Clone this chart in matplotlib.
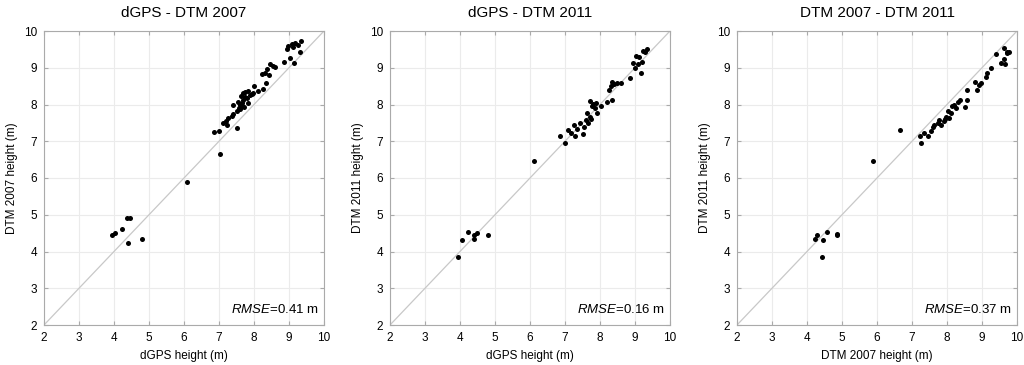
import numpy as np
import matplotlib
matplotlib.use('Agg')
import matplotlib.pyplot as plt

plt.rcParams['font.family'] = ['Liberation Sans', 'DejaVu Sans']
plt.rcParams['mathtext.fontset'] = 'custom'
plt.rcParams['mathtext.it'] = 'Liberation Sans:italic'
plt.rcParams['mathtext.rm'] = 'Liberation Sans'

# panel 1: dGPS vs DTM 2007
gps_a = [3.93, 4.04, 4.23, 4.38, 4.46, 4.39, 4.80, 6.09, 7.04, 6.85, 7.00, 7.50,
         7.12, 7.19, 7.27, 7.24, 7.41, 7.52, 7.60, 7.65, 7.55, 7.41, 7.69, 7.63,
         7.69, 7.74, 7.83, 7.89, 7.79, 7.83, 7.71, 7.60, 8.01, 7.98, 8.12, 8.25,
         8.33, 8.24, 8.30, 8.36, 8.44, 8.46, 8.53, 8.60, 8.86, 9.03, 9.15, 9.30,
         8.93, 8.98, 9.08, 9.17, 9.33, 9.27, 9.12, 7.66, 7.74, 7.57, 7.36, 7.93]
dtm07_a = [4.46, 4.51, 4.60, 4.91, 4.91, 4.24, 4.33, 5.89, 6.65, 7.24, 7.29, 7.36,
           7.49, 7.54, 7.63, 7.45, 7.74, 7.81, 7.87, 7.96, 8.08, 7.99, 8.13, 8.22,
           8.31, 8.35, 8.37, 8.26, 8.17, 8.04, 7.93, 7.99, 8.51, 8.31, 8.37, 8.42,
           8.58, 8.83, 8.87, 8.96, 8.81, 9.10, 9.05, 9.02, 9.15, 9.26, 9.12, 9.42,
           9.52, 9.60, 9.65, 9.67, 9.74, 9.62, 9.57, 8.05, 8.20, 7.90, 7.70, 8.28]

# panel 2: dGPS vs DTM 2011
gps_b = [3.95, 4.05, 4.24, 4.41, 4.41, 4.48, 4.81, 6.10, 6.87, 7.01, 7.08, 7.17,
         7.26, 7.29, 7.33, 7.43, 7.50, 7.55, 7.60, 7.62, 7.67, 7.71, 7.73, 7.70,
         7.81, 7.86, 7.90, 7.89, 7.76, 8.03, 8.19, 8.35, 8.27, 8.30, 8.33, 8.40,
         8.48, 8.59, 8.86, 8.95, 9.00, 9.08, 9.03, 9.17, 9.10, 9.24, 9.29, 9.33,
         9.19]
dtm11_b = [3.85, 4.31, 4.53, 4.34, 4.46, 4.50, 4.45, 6.45, 7.13, 6.94, 7.30, 7.23,
           7.43, 7.15, 7.33, 7.49, 7.21, 7.40, 7.57, 7.77, 7.49, 7.67, 7.60, 8.09,
           8.01, 7.90, 7.76, 8.04, 7.95, 7.95, 8.08, 8.13, 8.40, 8.49, 8.62, 8.57,
           8.59, 8.58, 8.73, 9.12, 8.99, 9.10, 9.32, 8.85, 9.29, 9.46, 9.42, 9.52,
           9.17]

# panel 3: DTM 2007 vs DTM 2011
dtm07_c = [4.22, 4.29, 4.56, 4.47, 4.43, 4.87, 4.87, 5.88, 6.65, 7.22, 7.27, 7.35,
           7.45, 7.53, 7.59, 7.64, 7.74, 7.78, 7.83, 7.91, 7.98, 8.02, 7.95, 8.07,
           8.12, 8.15, 8.21, 8.31, 8.26, 8.36, 8.50, 8.58, 8.58, 8.79, 8.86, 8.90,
           8.98, 9.12, 9.14, 9.27, 9.41, 9.53, 9.63, 9.70, 9.72, 9.67, 9.62, 9.77]
dtm11_c = [4.34, 4.46, 4.53, 4.31, 3.85, 4.48, 4.44, 6.45, 7.30, 7.13, 6.94, 7.22,
           7.15, 7.29, 7.38, 7.45, 7.49, 7.58, 7.45, 7.54, 7.67, 7.81, 7.60, 7.63,
           7.76, 7.95, 7.99, 8.08, 7.90, 8.13, 7.93, 8.13, 8.40, 8.62, 8.40, 8.53,
           8.58, 8.74, 8.85, 8.99, 9.37, 9.12, 9.53, 9.40, 9.44, 9.10, 9.23, 9.42]

titles = ['dGPS - DTM 2007', 'dGPS - DTM 2011', 'DTM 2007 - DTM 2011']
xlabels = ['dGPS height (m)', 'dGPS height (m)', 'DTM 2007 height (m)']
ylabels = ['DTM 2007 height (m)', 'DTM 2011 height (m)', 'DTM 2011 height (m)']
rmse = ['0.41', '0.16', '0.37']
xs = [gps_a, gps_b, dtm07_c]
ys = [dtm07_a, dtm11_b, dtm11_c]

fig = plt.figure(figsize=(10.24, 3.65), dpi=100)
lefts = [44, 390, 737]
for i in range(3):
    ax = fig.add_axes([lefts[i] / 1024, 40 / 365, 280 / 1024, 294 / 365])
    ax.set_xlim(2, 10)
    ax.set_ylim(2, 10)
    ax.set_xticks(range(2, 11))
    ax.set_yticks(range(2, 11))
    ax.grid(True, color='#ebebeb', linewidth=0.8)
    ax.set_axisbelow(True)
    ax.plot([2, 10], [2, 10], color='#c8c8c8', linewidth=0.9, zorder=1)
    ax.scatter(xs[i], ys[i], s=13, color='black', zorder=3, linewidths=0)
    for sp in ax.spines.values():
        sp.set_color('#aaaaaa')
        sp.set_linewidth(0.8)
    ax.tick_params(direction='in', length=3, color='#aaaaaa', labelsize=8.5,
                   top=True, right=True, pad=5)
    ax.set_title(titles[i], fontsize=11, pad=10)
    ax.set_xlabel(xlabels[i], fontsize=8.5)
    ax.set_ylabel(ylabels[i], fontsize=8.5)
    ax.text(0.98, 0.03, r'$\it{RMSE}$=' + rmse[i] + ' m', transform=ax.transAxes,
            ha='right', va='bottom', fontsize=9.5)

fig.savefig('out.png', dpi=100)
